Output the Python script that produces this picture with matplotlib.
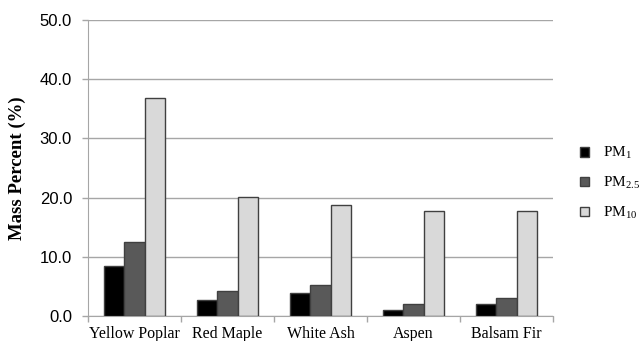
import matplotlib
matplotlib.use("Agg")
import matplotlib.pyplot as plt
import numpy as np

categories = ["Yellow Poplar", "Red Maple", "White Ash", "Aspen", "Balsam Fir"]
pm1 = [8.5, 2.7, 3.9, 1.0, 2.0]
pm25 = [12.5, 4.3, 5.2, 2.1, 3.0]
pm10 = [36.8, 20.1, 18.7, 17.8, 17.7]
series_labels = [r"PM$_{1}$", r"PM$_{2.5}$", r"PM$_{10}$"]
yticks = [0, 10, 20, 30, 40, 50]

plt.rcParams['mathtext.fontset'] = 'custom'
plt.rcParams['mathtext.rm'] = 'Liberation Serif'
plt.rcParams['mathtext.it'] = 'Liberation Serif'

fig = plt.figure(figsize=(6.4, 3.41), dpi=100)
ax = fig.add_axes([88/640, 1-316/341, (553-88)/640, (316-20)/341])

x = np.arange(len(categories))
w = 0.22
colors = ["#000000", "#595959", "#d9d9d9"]
for i, (vals, c, lab) in enumerate(zip([pm1, pm25, pm10], colors, series_labels)):
    ax.bar(x + (i - 1) * w, vals, width=w, color=c, edgecolor="#404040",
           linewidth=1.0, label=lab, zorder=3)

ax.set_xlim(-0.5, len(categories) - 0.5)
ax.set_ylim(0, 50)
ax.set_yticks(yticks)
ax.set_yticklabels([f"{v:.1f}" for v in yticks], fontsize=12, family="Liberation Sans")
ax.yaxis.grid(True, color="#a6a6a6", linewidth=1.0, zorder=0)
ax.tick_params(axis="y", length=4.5, color="#a6a6a6", width=1, pad=7)

ax.set_xticks(x)
ax.set_xticklabels(categories, fontsize=11.5, family="Liberation Serif")
ax.tick_params(axis="x", length=0, pad=7)
ax.set_xticks(np.arange(-0.5, len(categories)), minor=True)
ax.tick_params(axis="x", which="minor", length=4.5, color="#a6a6a6", width=1)

for s in ["top", "right"]:
    ax.spines[s].set_visible(False)
ax.spines["left"].set_color("#a6a6a6")
ax.spines["bottom"].set_color("#a6a6a6")

ax.set_ylabel("Mass Percent (%)", fontsize=13.5, fontweight="bold",
              family="Liberation Serif", labelpad=10)

leg = fig.legend(loc="center left", bbox_to_anchor=(566/640, 1-183/341),
                 frameon=False, prop={"family": "Liberation Serif", "size": 11},
                 handlelength=0.6, handleheight=0.6, labelspacing=0.9, handletextpad=0.9)

fig.savefig("out.png", dpi=100)
